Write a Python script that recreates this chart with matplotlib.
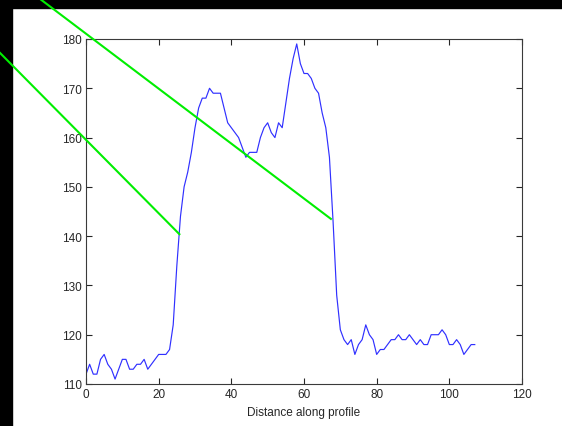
import numpy as np
import matplotlib
matplotlib.use("Agg")
import matplotlib.pyplot as plt
from matplotlib.patches import Rectangle

# intensity profile sampled along the line (one value per unit distance)
profile = [112, 114, 112, 112, 115, 116, 114, 113, 111, 113,
           115, 115, 113, 113, 114, 114, 115, 113, 114, 115,
           116, 116, 116, 117, 122, 134, 144, 150, 153, 157,
           162, 166, 168, 168, 170, 169, 169, 169, 166, 163,
           162, 161, 160, 158, 156, 157, 157, 157, 160, 162,
           163, 161, 160, 163, 162, 167, 172, 176, 179, 175,
           173, 173, 172, 170, 169, 165, 162, 156, 143, 128,
           121, 119, 118, 119, 116, 118, 119, 122, 120, 119,
           116, 117, 117, 118, 119, 119, 120, 119, 119, 120,
           119, 118, 119, 118, 118, 120, 120, 120, 121, 120,
           118, 118, 119, 118, 116, 117, 118, 118]
distance = np.arange(len(profile))

# green overlay lines (end points in data units, they run outside the axes)
line1_x = [-12.6, 67.4]
line1_y = [188.1, 143.5]
line2_x = [-23.7, 25.7]
line2_y = [177.2, 140.4]

xticks = [0, 20, 40, 60, 80, 100, 120]
yticks = [110, 120, 130, 140, 150, 160, 170, 180]

plt.rcParams['font.family'] = ['Liberation Sans', 'DejaVu Sans']

fig = plt.figure(figsize=(5.62, 4.27), dpi=100)
fig.patch.set_facecolor('white')
# black borders of the captured window
fig.patches.append(Rectangle((0, 0), 12 / 562, 1, transform=fig.transFigure,
                             color='black', zorder=-1))
fig.patches.append(Rectangle((0, 1 - 9 / 427), 1, 9 / 427, transform=fig.transFigure,
                             color='black', zorder=-1))

ax = fig.add_axes([86 / 562, 1 - 385 / 427, 436 / 562, 345 / 427])
ax.plot(distance, profile, color='#3030ff', lw=0.85)
ax.plot(line1_x, line1_y, color='#00ee00', lw=1.5, clip_on=False, zorder=5)
ax.plot(line2_x, line2_y, color='#00ee00', lw=1.5, clip_on=False, zorder=5)

ax.set_xlim(0, 120)
ax.set_ylim(110, 180)
ax.set_xticks(xticks)
ax.set_yticks(yticks)
ax.tick_params(direction='in', length=4, width=0.8, top=True, right=True,
               labelsize=8.5, colors='#262626', pad=3)
for s in ax.spines.values():
    s.set_color('#3a3a3a')
    s.set_linewidth(0.8)
ax.set_xlabel('Distance along profile', fontsize=8.5, color='#262626', labelpad=4)

fig.savefig('out.png', dpi=100)
